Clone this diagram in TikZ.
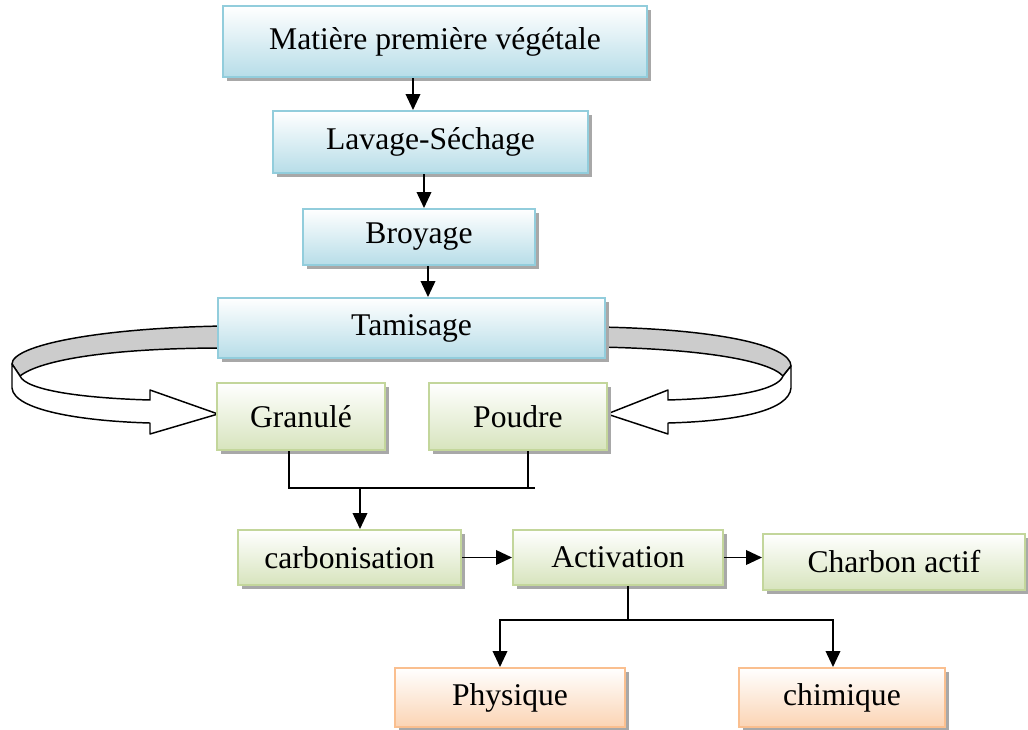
\documentclass[tikz,border=0pt]{standalone}
\usepackage{fontspec}
\setmainfont{Liberation Serif}
\usetikzlibrary{arrows.meta,shadows}
\definecolor{bluefill}{HTML}{B7DDE8}
\definecolor{blueline}{HTML}{92CDDC}
\definecolor{greenfill}{HTML}{D7E4BD}
\definecolor{greenline}{HTML}{C3D69B}
\definecolor{orangefill}{HTML}{FBD4B4}
\definecolor{orangeline}{HTML}{FABF8F}
\definecolor{ribbon}{HTML}{CCCCCC}
\definecolor{shadowc}{HTML}{A8A8A8}
\tikzset{
  base/.style={rectangle, inner sep=0pt, line width=1.5pt,
    font=\fontsize{23.7}{28}\selectfont,
    drop shadow={shadow xshift=3pt, shadow yshift=-3pt, fill=shadowc, opacity=1}},
  bluebox/.style={base, draw=blueline, top color=white, bottom color=bluefill},
  greenbox/.style={base, draw=greenline, top color=white, bottom color=greenfill},
  orangebox/.style={base, draw=orangeline, top color=white, bottom color=orangefill},
  arr/.style={line width=1.2pt, -{Triangle[length=12pt,width=11pt]}},
  ln/.style={line width=1.2pt},
  twist/.style={line width=1.1pt, draw=black, line join=round}
}
\newcommand\mkbox[7]{%
  \pgfmathsetmacro\cx{(#3+#5)/2}%
  \pgfmathsetmacro\cy{(#4+#6)/2}%
  \pgfmathsetmacro\ww{(#5-#3)*0.75}%
  \pgfmathsetmacro\hh{(#6-#4)*0.75}%
  \node[#2, minimum width=\ww pt, minimum height=\hh pt] (#1) at (\cx,\cy) {#7};}
\begin{document}
\begin{tikzpicture}[x=0.75pt,y=-0.75pt]
\useasboundingbox (0,0) rectangle (1028,729);
% curved split arrows
\draw[twist, fill=ribbon] (224,326) .. controls (100,328) and (12,345) .. (12,364) -- (20,376) .. controls (40,360) and (110,348) .. (224,348) -- cycle;
\draw[twist, fill=white] (12,364) -- (12,388) .. controls (14,410) and (80,421) .. (150,423) -- (150,434) -- (218,414) -- (150,390) -- (150,400) .. controls (80,398) and (26,390) .. (20,376) -- cycle;
\draw[twist, fill=ribbon] (599,327) .. controls (715,329) and (791,345) .. (791,366) -- (783,376) .. controls (768,360) and (700,349) .. (599,347) -- cycle;
\draw[twist, fill=white] (791,366) -- (791,388) .. controls (789,410) and (740,421) .. (668,423) -- (668,434) -- (607,414) -- (668,390) -- (668,400) .. controls (735,398) and (778,390) .. (783,376) -- cycle;
% boxes
\mkbox{mat}{bluebox}{223}{6}{647}{77}{Matière première végétale}
\mkbox{lav}{bluebox}{273}{111}{588}{173}{Lavage-Séchage}
\mkbox{bro}{bluebox}{303}{209}{535}{265}{Broyage}
\mkbox{tam}{bluebox}{218}{298}{605}{358}{Tamisage}
\mkbox{gra}{greenbox}{217}{383}{385}{450}{Granulé}
\mkbox{pou}{greenbox}{429}{383}{607}{450}{Poudre}
\mkbox{car}{greenbox}{238}{530}{461}{585}{carbonisation}
\mkbox{act}{greenbox}{513}{530}{723}{585}{Activation}
\mkbox{cha}{greenbox}{763}{534}{1025}{590}{Charbon actif}
\mkbox{phy}{orangebox}{395}{668}{625}{727}{Physique}
\mkbox{chi}{orangebox}{739}{668}{945}{727}{chimique}
% connectors
\draw[arr] (413,0 |- mat.south) -- (413,0 |- lav.north);
\draw[arr] (424,0 |- lav.south) -- (424,0 |- bro.north);
\draw[arr] (428,0 |- bro.south) -- (428,0 |- tam.north);
\coordinate (mg) at (289,488);
\coordinate (me) at (535,488);
\draw[ln] (289,0 |- gra.south) -- (mg) -- (me);
\draw[ln] (528,0 |- pou.south) -- (528,488);
\draw[arr] (360,488) -- (360,0 |- car.north);
\draw[arr] (car.east) -- (act.west);
\draw[arr] (act.east) -- (act.east -| cha.west);
\coordinate (sp) at (628,620);
\draw[ln] (628,0 |- act.south) -- (sp);
\draw[arr] (sp) -| (phy.north -| 500,0);
\draw[arr] (sp) -| (chi.north -| 833,0);
\end{tikzpicture}
\end{document}
